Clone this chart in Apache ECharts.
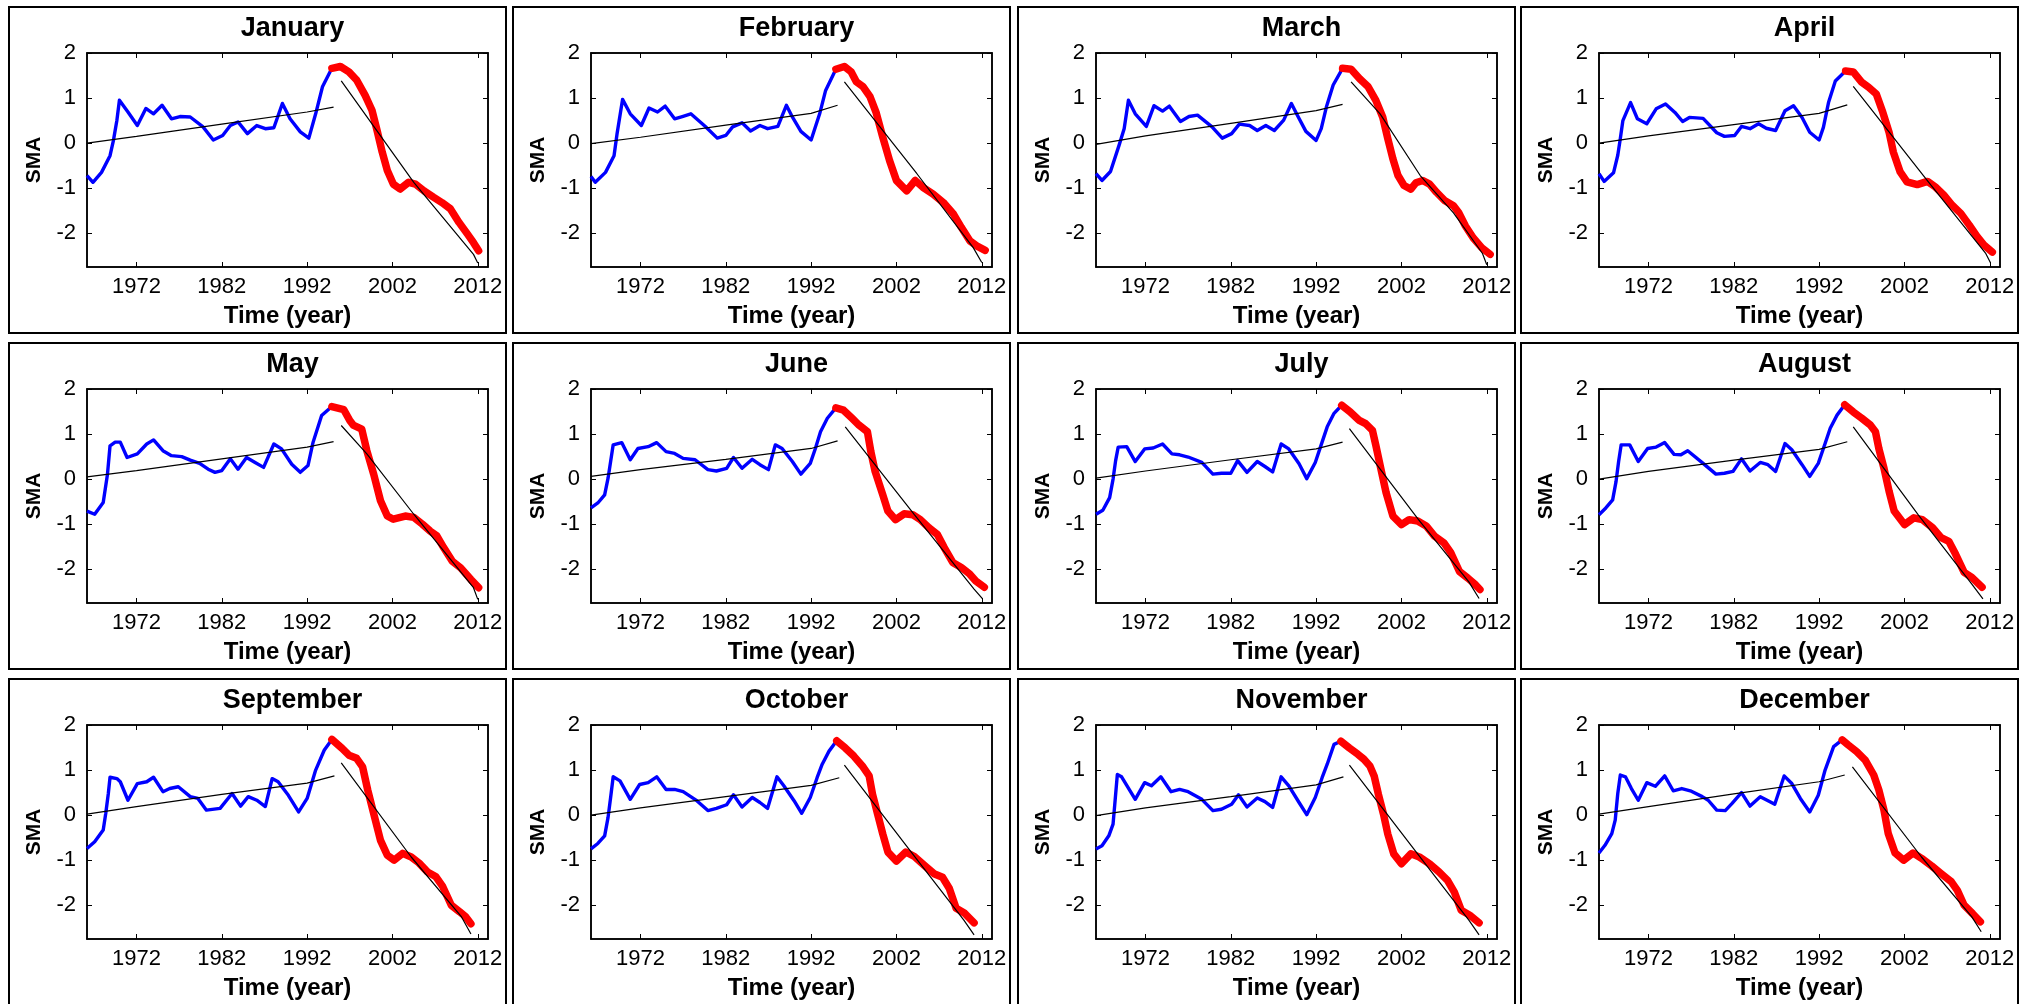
<!DOCTYPE html>
<html><head><meta charset="utf-8">
<script src="https://cdn.jsdelivr.net/npm/echarts@6/dist/echarts.min.js"></script>
<style>html,body{margin:0;padding:0;background:#fff}#c{width:2033px;height:1004px}</style>
</head><body><div id="c"></div>
<script>
const months = ['January','February','March','April','May','June','July','August','September','October','November','December'];
const xTicks = [1972, 1982, 1992, 2002, 2012];
const yTicks = [-2, -1, 0, 1, 2];

const janBlue = [[1966.2,-0.72],[1966.9,-0.87],[1967.9,-0.65],[1968.9,-0.28],[1969.3,0.06],[1969.7,0.5],[1970.0,0.95],[1971.0,0.69],[1972.1,0.39],[1973.1,0.77],[1974.0,0.65],[1975.0,0.84],[1976.1,0.54],[1977.1,0.59],[1978.3,0.58],[1979.8,0.36],[1981.0,0.07],[1982.1,0.17],[1983.0,0.39],[1983.9,0.47],[1985.0,0.21],[1986.1,0.39],[1987.1,0.32],[1988.1,0.34],[1989.1,0.88],[1990.0,0.54],[1991.2,0.25],[1992.2,0.11],[1993.0,0.65],[1993.8,1.25],[1994.9,1.66]];
const janRed = [[1994.9,1.66],[1995.9,1.7],[1996.9,1.58],[1997.8,1.40],[1998.8,1.06],[1999.6,0.73],[2000.2,0.28],[2000.8,-0.2],[2001.4,-0.61],[2002.1,-0.91],[2002.9,-1.02],[2003.9,-0.87],[2004.7,-0.91],[2005.7,-1.06],[2006.8,-1.2],[2007.8,-1.32],[2008.8,-1.46],[2009.8,-1.76],[2010.8,-2.02],[2011.5,-2.21],[2012.1,-2.39]];
const janTrendA = [[1966.2,0.0],[1972,0.15],[1982,0.42],[1992,0.69],[1995.1,0.80]];
const janTrendB = [[1996.0,1.38],[2004.5,-0.87],[2011.5,-2.47],[2012.0,-2.66]];

const febBlue = [[1966.2,-0.74],[1966.7,-0.87],[1967.9,-0.65],[1968.9,-0.28],[1969.25,0.2],[1969.9,0.97],[1970.8,0.65],[1972.1,0.39],[1973.0,0.78],[1974.0,0.69],[1974.9,0.82],[1976.0,0.54],[1976.9,0.59],[1977.9,0.65],[1979.6,0.37],[1981.0,0.11],[1982.0,0.17],[1982.8,0.36],[1983.9,0.45],[1984.9,0.27],[1986.0,0.39],[1986.9,0.32],[1988.1,0.37],[1989.1,0.84],[1989.8,0.58],[1990.8,0.26],[1992.0,0.07],[1993.0,0.65],[1993.7,1.17],[1994.9,1.64]];
const febRed = [[1994.9,1.64],[1995.9,1.70],[1996.7,1.58],[1997.3,1.36],[1998.1,1.25],[1998.9,1.03],[1999.6,0.69],[2000.4,0.13],[2001.2,-0.39],[2002.0,-0.83],[2003.2,-1.06],[2004.2,-0.83],[2005.1,-0.98],[2006.3,-1.13],[2007.5,-1.32],[2008.7,-1.58],[2009.6,-1.87],[2010.6,-2.17],[2011.4,-2.28],[2012.4,-2.38]];
const febTrendA = [[1966.2,-0.01],[1972,0.13],[1982,0.40],[1992,0.66],[1995.1,0.84]];
const febTrendB = [[1995.9,1.36],[2004.4,-0.68],[2011.0,-2.32],[2012.0,-2.65]];

const marBlue = [[1966.2,-0.68],[1966.9,-0.83],[1967.9,-0.63],[1968.9,-0.05],[1969.5,0.32],[1970.0,0.95],[1970.8,0.65],[1972.1,0.37],[1973.0,0.83],[1974.0,0.71],[1974.8,0.82],[1976.1,0.48],[1977.1,0.59],[1978.1,0.62],[1979.8,0.36],[1981.0,0.11],[1982.1,0.21],[1983.0,0.42],[1984.2,0.39],[1985.1,0.28],[1986.1,0.39],[1987.1,0.28],[1988.2,0.51],[1989.1,0.88],[1989.8,0.62],[1990.8,0.26],[1992.0,0.06],[1992.6,0.32],[1993.2,0.8],[1994.0,1.29],[1995.1,1.66]];
const marRed = [[1995.1,1.66],[1996.1,1.64],[1997.1,1.43],[1998.1,1.25],[1999.0,0.95],[1999.8,0.58],[2000.4,0.10],[2001.0,-0.35],[2001.6,-0.72],[2002.3,-0.94],[2003.1,-1.02],[2003.7,-0.88],[2004.5,-0.83],[2005.3,-0.91],[2006.1,-1.09],[2007.1,-1.28],[2008.1,-1.39],[2008.7,-1.54],[2009.5,-1.84],[2010.4,-2.10],[2011.4,-2.32],[2012.4,-2.47]];
const marTrendA = [[1966.2,-0.03],[1972,0.16],[1982,0.44],[1992,0.72],[1995.1,0.86]];
const marTrendB = [[1996.1,1.36],[1999.5,0.65],[2004.2,-0.72],[2008.1,-1.55],[2011.5,-2.45],[2012.0,-2.70]];

const aprBlue = [[1966.2,-0.68],[1966.8,-0.85],[1967.9,-0.66],[1968.4,-0.27],[1968.7,0.1],[1969.0,0.5],[1969.9,0.9],[1970.7,0.54],[1971.8,0.43],[1972.9,0.76],[1974.0,0.87],[1975.1,0.68],[1976.0,0.48],[1976.8,0.57],[1978.4,0.55],[1980.0,0.23],[1980.9,0.15],[1982.1,0.17],[1982.9,0.37],[1983.9,0.32],[1984.9,0.43],[1985.8,0.33],[1986.9,0.28],[1988.0,0.72],[1989.0,0.83],[1990.0,0.57],[1990.9,0.24],[1992.0,0.07],[1992.5,0.35],[1993.1,0.9],[1993.9,1.38],[1995.1,1.6]];
const aprRed = [[1995.1,1.6],[1996.0,1.58],[1997.0,1.35],[1997.8,1.24],[1998.7,1.09],[1999.4,0.72],[2000.2,0.24],[2000.7,-0.2],[2001.5,-0.64],[2002.3,-0.86],[2003.5,-0.92],[2004.7,-0.85],[2005.6,-0.97],[2006.6,-1.15],[2007.6,-1.38],[2008.6,-1.56],[2009.6,-1.82],[2010.5,-2.07],[2011.3,-2.26],[2012.3,-2.42]];
const aprTrendA = [[1966.2,0.0],[1972,0.16],[1982,0.41],[1992,0.66],[1995.3,0.85]];
const aprTrendB = [[1996.0,1.26],[2004.5,-0.79],[2011.5,-2.44],[2012.1,-2.66]];

const mayBlue = [[1966.2,-0.71],[1967.1,-0.78],[1968.1,-0.52],[1968.6,0.11],[1968.9,0.74],[1969.5,0.82],[1970.1,0.82],[1970.9,0.48],[1972.1,0.56],[1973.2,0.78],[1974.0,0.87],[1975.1,0.63],[1976.1,0.52],[1977.3,0.5],[1978.3,0.42],[1979.4,0.35],[1980.4,0.22],[1981.2,0.15],[1982.0,0.19],[1983.0,0.45],[1983.9,0.22],[1984.9,0.48],[1985.9,0.37],[1986.9,0.26],[1988.1,0.78],[1989.0,0.67],[1990.2,0.33],[1991.2,0.15],[1992.1,0.3],[1992.7,0.82],[1993.7,1.41],[1994.9,1.61]];
const mayRed = [[1994.9,1.61],[1996.3,1.54],[1997.0,1.30],[1997.4,1.2],[1998.4,1.11],[1999.0,0.63],[1999.8,0.11],[2000.6,-0.48],[2001.4,-0.82],[2002.1,-0.89],[2003.5,-0.82],[2004.5,-0.85],[2005.5,-1.0],[2006.4,-1.15],[2007.2,-1.26],[2008.0,-1.52],[2009.0,-1.82],[2010.0,-1.97],[2011.2,-2.23],[2012.1,-2.41]];
const mayTrendA = [[1966.2,0.05],[1972,0.19],[1982,0.45],[1992,0.71],[1995.1,0.83]];
const mayTrendB = [[1996.0,1.19],[1999.0,0.56],[2004.5,-0.78],[2011.5,-2.41],[2012.0,-2.67]];

const junBlue = [[1966.2,-0.64],[1967.0,-0.53],[1967.8,-0.35],[1968.2,0.02],[1968.5,0.39],[1968.8,0.76],[1969.8,0.81],[1970.8,0.43],[1971.7,0.68],[1972.9,0.72],[1973.9,0.81],[1975.0,0.61],[1976.0,0.57],[1977.0,0.46],[1978.4,0.43],[1979.9,0.21],[1980.9,0.18],[1982.1,0.24],[1982.9,0.48],[1983.9,0.24],[1985.1,0.44],[1986.0,0.32],[1987.0,0.21],[1987.8,0.76],[1988.6,0.68],[1989.8,0.39],[1990.8,0.11],[1991.9,0.35],[1992.5,0.68],[1993.1,1.05],[1993.9,1.35],[1994.9,1.58]];
const junRed = [[1994.9,1.58],[1995.8,1.53],[1996.8,1.35],[1997.6,1.2],[1998.6,1.05],[1999.0,0.61],[1999.5,0.17],[2000.4,-0.35],[2001.0,-0.71],[2001.9,-0.9],[2002.9,-0.77],[2003.9,-0.79],[2004.8,-0.9],[2005.8,-1.08],[2006.8,-1.23],[2007.6,-1.52],[2008.6,-1.85],[2009.6,-1.96],[2010.6,-2.11],[2011.3,-2.26],[2012.3,-2.4]];
const junTrendA = [[1966.2,0.06],[1972,0.21],[1982,0.44],[1992,0.68],[1995.1,0.85]];
const junTrendB = [[1996.0,1.16],[2004.1,-0.79],[2011.1,-2.44],[2012.1,-2.66]];

const julBlue = [[1966.2,-0.78],[1967.0,-0.69],[1967.8,-0.41],[1968.2,0.0],[1968.5,0.41],[1968.8,0.71],[1969.8,0.72],[1970.8,0.39],[1971.9,0.67],[1972.9,0.69],[1974.0,0.78],[1975.1,0.56],[1976.0,0.54],[1977.0,0.49],[1978.6,0.37],[1979.9,0.11],[1980.9,0.13],[1982.0,0.13],[1982.8,0.41],[1983.9,0.15],[1985.1,0.39],[1986.0,0.28],[1986.9,0.16],[1987.9,0.78],[1988.8,0.67],[1990.0,0.34],[1990.9,0.01],[1991.9,0.37],[1992.7,0.82],[1993.3,1.16],[1994.1,1.46],[1995.0,1.64]];
const julRed = [[1995.0,1.64],[1996.0,1.49],[1997.0,1.31],[1997.8,1.23],[1998.6,1.08],[1999.0,0.75],[1999.6,0.22],[2000.2,-0.3],[2001.0,-0.82],[2002.0,-1.01],[2002.9,-0.9],[2003.9,-0.93],[2004.9,-1.04],[2005.9,-1.27],[2007.0,-1.42],[2007.8,-1.64],[2008.8,-2.05],[2009.8,-2.2],[2010.6,-2.33],[2011.2,-2.45]];
const julTrendA = [[1966.2,0.02],[1972,0.18],[1982,0.43],[1992,0.67],[1995.1,0.82]];
const julTrendB = [[1995.9,1.12],[2004.0,-0.90],[2009.9,-2.28],[2011.1,-2.65]];

const augBlue = [[1966.2,-0.79],[1967.0,-0.64],[1967.8,-0.46],[1968.2,-0.05],[1968.5,0.39],[1968.8,0.76],[1969.8,0.76],[1970.8,0.39],[1971.9,0.68],[1972.9,0.71],[1973.9,0.81],[1975.0,0.55],[1975.8,0.54],[1976.6,0.63],[1978.4,0.35],[1979.9,0.11],[1980.9,0.13],[1981.9,0.17],[1982.9,0.45],[1983.9,0.18],[1985.1,0.37],[1986.0,0.32],[1986.9,0.17],[1988.0,0.79],[1988.8,0.65],[1990.0,0.32],[1990.9,0.06],[1991.9,0.35],[1992.7,0.79],[1993.3,1.13],[1994.1,1.42],[1995.0,1.65]];
const augRed = [[1995.0,1.65],[1996.0,1.49],[1997.0,1.35],[1998.0,1.2],[1998.6,1.05],[1999.0,0.68],[1999.6,0.24],[2000.2,-0.27],[2000.8,-0.71],[2002.0,-1.01],[2003.1,-0.86],[2004.1,-0.9],[2005.3,-1.08],[2006.3,-1.3],[2007.2,-1.38],[2008.0,-1.67],[2009.0,-2.07],[2009.9,-2.18],[2011.1,-2.4]];
const augTrendA = [[1966.2,0.0],[1972,0.17],[1982,0.42],[1992,0.66],[1995.3,0.83]];
const augTrendB = [[1996.0,1.16],[2003.6,-0.79],[2009.9,-2.33],[2011.2,-2.66]];

const sepBlue = [[1966.2,-0.74],[1967.1,-0.59],[1968.1,-0.33],[1968.4,0.04],[1968.7,0.48],[1968.9,0.84],[1969.7,0.81],[1970.1,0.74],[1971.0,0.33],[1972.1,0.7],[1973.2,0.74],[1974.0,0.84],[1975.1,0.52],[1975.9,0.59],[1976.9,0.63],[1978.3,0.41],[1979.2,0.37],[1980.2,0.11],[1981.8,0.15],[1983.2,0.48],[1984.2,0.2],[1985.1,0.41],[1986.1,0.33],[1987.1,0.19],[1987.9,0.81],[1988.6,0.74],[1989.8,0.44],[1991.0,0.07],[1992.0,0.37],[1993.0,1.0],[1994.0,1.44],[1994.9,1.68]];
const sepRed = [[1994.9,1.68],[1996.1,1.48],[1996.9,1.33],[1997.8,1.26],[1998.5,1.07],[1999.1,0.56],[1999.9,-0.04],[2000.6,-0.56],[2001.4,-0.89],[2002.2,-1.0],[2003.2,-0.85],[2004.2,-0.93],[2005.1,-1.06],[2006.1,-1.26],[2007.1,-1.37],[2007.9,-1.59],[2008.9,-2.0],[2009.9,-2.15],[2010.6,-2.26],[2011.2,-2.41]];
const sepTrendA = [[1966.2,0.02],[1972,0.19],[1982,0.46],[1992,0.71],[1995.2,0.87]];
const sepTrendB = [[1996.0,1.16],[2004.2,-0.93],[2010.1,-2.26],[2011.2,-2.64]];

const octBlue = [[1966.2,-0.75],[1967.0,-0.63],[1967.8,-0.46],[1968.2,-0.05],[1968.5,0.39],[1968.8,0.85],[1969.6,0.76],[1970.8,0.35],[1971.9,0.68],[1972.9,0.72],[1973.9,0.85],[1975.0,0.57],[1976.0,0.57],[1977.0,0.52],[1978.6,0.32],[1979.9,0.1],[1980.9,0.15],[1982.1,0.23],[1982.9,0.45],[1983.9,0.18],[1985.1,0.39],[1986.0,0.28],[1986.9,0.15],[1988.0,0.85],[1988.8,0.65],[1990.0,0.32],[1990.9,0.04],[1991.9,0.39],[1992.7,0.83],[1993.3,1.13],[1994.1,1.42],[1995.0,1.65]];
const octRed = [[1995.0,1.65],[1996.0,1.49],[1997.0,1.31],[1998.0,1.09],[1998.8,0.87],[1999.2,0.46],[1999.8,0.02],[2000.4,-0.42],[2001.0,-0.82],[2002.0,-1.02],[2003.1,-0.82],[2004.1,-0.92],[2005.3,-1.12],[2006.4,-1.3],[2007.4,-1.38],[2008.2,-1.63],[2009.0,-2.07],[2010.0,-2.18],[2011.1,-2.39]];
const octTrendA = [[1966.2,0.0],[1972,0.16],[1982,0.41],[1992,0.66],[1995.3,0.83]];
const octTrendB = [[1995.9,1.11],[2003.6,-0.79],[2009.9,-2.33],[2011.1,-2.66]];

const novBlue = [[1966.2,-0.75],[1966.9,-0.68],[1967.7,-0.46],[1968.2,-0.2],[1968.4,0.24],[1968.7,0.9],[1969.2,0.85],[1970.8,0.35],[1971.9,0.72],[1972.7,0.65],[1973.8,0.85],[1975.0,0.52],[1976.0,0.57],[1977.0,0.52],[1978.6,0.35],[1979.9,0.1],[1980.9,0.13],[1982.1,0.24],[1982.9,0.45],[1983.9,0.18],[1985.1,0.38],[1986.0,0.30],[1986.9,0.17],[1987.9,0.85],[1988.8,0.65],[1990.0,0.28],[1990.9,0.01],[1991.9,0.39],[1992.7,0.83],[1993.3,1.13],[1994.1,1.57],[1994.9,1.64]];
const novRed = [[1994.9,1.64],[1995.9,1.49],[1996.9,1.35],[1997.6,1.24],[1998.3,1.09],[1998.8,0.87],[1999.3,0.46],[1999.9,0.02],[2000.4,-0.42],[2001.1,-0.86],[2002.0,-1.08],[2003.1,-0.86],[2004.1,-0.93],[2005.3,-1.08],[2006.4,-1.26],[2007.4,-1.45],[2008.2,-1.71],[2009.0,-2.11],[2010.0,-2.22],[2011.1,-2.39]];
const novTrendA = [[1966.2,-0.01],[1972,0.16],[1982,0.41],[1992,0.67],[1995.2,0.85]];
const novTrendB = [[1995.9,1.11],[2003.6,-0.79],[2009.9,-2.33],[2011.1,-2.66]];

const decBlue = [[1966.2,-0.84],[1966.9,-0.67],[1967.7,-0.41],[1968.1,-0.11],[1968.4,0.48],[1968.7,0.89],[1969.3,0.85],[1970.0,0.59],[1970.8,0.33],[1971.8,0.72],[1972.8,0.64],[1973.9,0.87],[1974.9,0.54],[1975.9,0.59],[1976.9,0.54],[1978.3,0.41],[1979.0,0.33],[1980.0,0.11],[1981.0,0.1],[1981.8,0.26],[1982.9,0.5],[1983.9,0.2],[1985.1,0.41],[1985.9,0.33],[1986.8,0.24],[1987.9,0.87],[1988.8,0.7],[1989.8,0.37],[1990.9,0.07],[1991.9,0.44],[1992.7,1.0],[1993.7,1.52],[1994.7,1.67]];
const decRed = [[1994.7,1.67],[1995.4,1.56],[1996.4,1.41],[1997.4,1.22],[1998.4,0.89],[1999.0,0.56],[1999.6,0.11],[2000.1,-0.41],[2000.9,-0.84],[2001.9,-1.0],[2003.0,-0.84],[2004.0,-0.96],[2005.2,-1.13],[2006.3,-1.3],[2007.5,-1.48],[2008.2,-1.67],[2009.0,-2.0],[2010.0,-2.19],[2010.9,-2.37]];
const decTrendA = [[1966.2,0.02],[1972,0.19],[1982,0.47],[1992,0.74],[1995.0,0.89]];
const decTrendB = [[1995.9,1.07],[2004.0,-0.93],[2009.9,-2.26],[2011.0,-2.59]];

const blueSeries = [janBlue, febBlue, marBlue, aprBlue, mayBlue, junBlue, julBlue, augBlue, sepBlue, octBlue, novBlue, decBlue];
const redSeries = [janRed, febRed, marRed, aprRed, mayRed, junRed, julRed, augRed, sepRed, octRed, novRed, decRed];
const trendASeries = [janTrendA, febTrendA, marTrendA, aprTrendA, mayTrendA, junTrendA, julTrendA, augTrendA, sepTrendA, octTrendA, novTrendA, decTrendA];
const trendBSeries = [janTrendB, febTrendB, marTrendB, aprTrendB, mayTrendB, junTrendB, julTrendB, augTrendB, sepTrendB, octTrendB, novTrendB, decTrendB];

const FONT = '"Liberation Sans", Arial, Helvetica, sans-serif';
const colLeft = [9, 513, 1018, 1521];
const rowTop = [7, 343, 679];
const PW = 497, PH = 326;
const GL = 78, GT = 46, GW = 401, GH = 214;

const chart = echarts.init(document.getElementById('c'), null, {renderer: 'canvas'});
const grids = [], xAxes = [], yAxes = [], series = [], titles = [], graphics = [];
const plain = v => String(v);

months.forEach((m, i) => {
  const c = i % 4, r = Math.floor(i / 4);
  const L = colLeft[c], T = rowTop[r];
  graphics.push({type: 'rect', shape: {x: L, y: T, width: PW, height: PH}, style: {fill: 'none', stroke: '#000', lineWidth: 2}, silent: true});
  titles.push({text: m, left: L + GL + GW / 2, top: T + 3, textAlign: 'center',
    textStyle: {fontFamily: FONT, fontSize: 27, fontWeight: 'bold', color: '#000'}});
  grids.push({left: L + GL, top: T + GT, width: GW, height: GH, containLabel: false,
    show: true, borderColor: '#000', borderWidth: 1.5, backgroundColor: 'transparent'});
  const axLine = {show: true, onZero: false, lineStyle: {color: '#000', width: 1.5}};
  const tick = {show: true, inside: true, length: 5, lineStyle: {color: '#000', width: 1}};
  xAxes.push({type: 'value', gridIndex: i, min: 1966.2, max: 2013.2, position: 'bottom',
    axisLine: axLine, splitLine: {show: false},
    axisTick: Object.assign({}, tick, {customValues: xTicks}),
    axisLabel: {customValues: xTicks, formatter: plain, margin: 9, fontFamily: FONT, fontSize: 22, color: '#000'},
    name: 'Time (year)', nameLocation: 'middle', nameGap: 37,
    nameTextStyle: {fontFamily: FONT, fontSize: 24, fontWeight: 'bold', color: '#000'}});
  xAxes.push({type: 'value', gridIndex: i, min: 1966.2, max: 2013.2, position: 'top',
    axisLine: axLine, splitLine: {show: false},
    axisTick: Object.assign({}, tick, {customValues: xTicks}),
    axisLabel: {show: false}});
  yAxes.push({type: 'value', gridIndex: i, min: -2.75, max: 2, position: 'left',
    axisLine: axLine, splitLine: {show: false},
    axisTick: Object.assign({}, tick, {customValues: yTicks}),
    axisLabel: {customValues: yTicks, formatter: plain, margin: 11, fontFamily: FONT, fontSize: 22, color: '#000'},
    name: 'SMA', nameLocation: 'middle', nameGap: 42, nameRotate: 90,
    nameTextStyle: {fontFamily: FONT, fontSize: 21, fontWeight: 'bold', color: '#000'}});
  yAxes.push({type: 'value', gridIndex: i, min: -2.75, max: 2, position: 'right',
    axisLine: axLine, splitLine: {show: false},
    axisTick: Object.assign({}, tick, {customValues: yTicks}),
    axisLabel: {show: false}});
  const xi = 2 * i, yi = 2 * i;
  const base = {type: 'line', xAxisIndex: xi, yAxisIndex: yi, showSymbol: false, symbol: 'none', silent: true, animation: false};
  series.push(Object.assign({}, base, {data: trendASeries[i], lineStyle: {color: '#000', width: 1.2}, z: 3}));
  series.push(Object.assign({}, base, {data: blueSeries[i], lineStyle: {color: '#0000ff', width: 3.4, join: 'round'}, z: 2}));
  series.push(Object.assign({}, base, {data: redSeries[i], lineStyle: {color: '#ff0000', width: 7.5, join: 'round', cap: 'round'}, z: 2}));
  series.push(Object.assign({}, base, {data: trendBSeries[i], lineStyle: {color: '#000', width: 1.2}, z: 3}));
});

chart.setOption({
  backgroundColor: '#fff',
  animation: false,
  title: titles,
  grid: grids,
  xAxis: xAxes,
  yAxis: yAxes,
  series: series,
  graphic: graphics
});
</script></body></html>
